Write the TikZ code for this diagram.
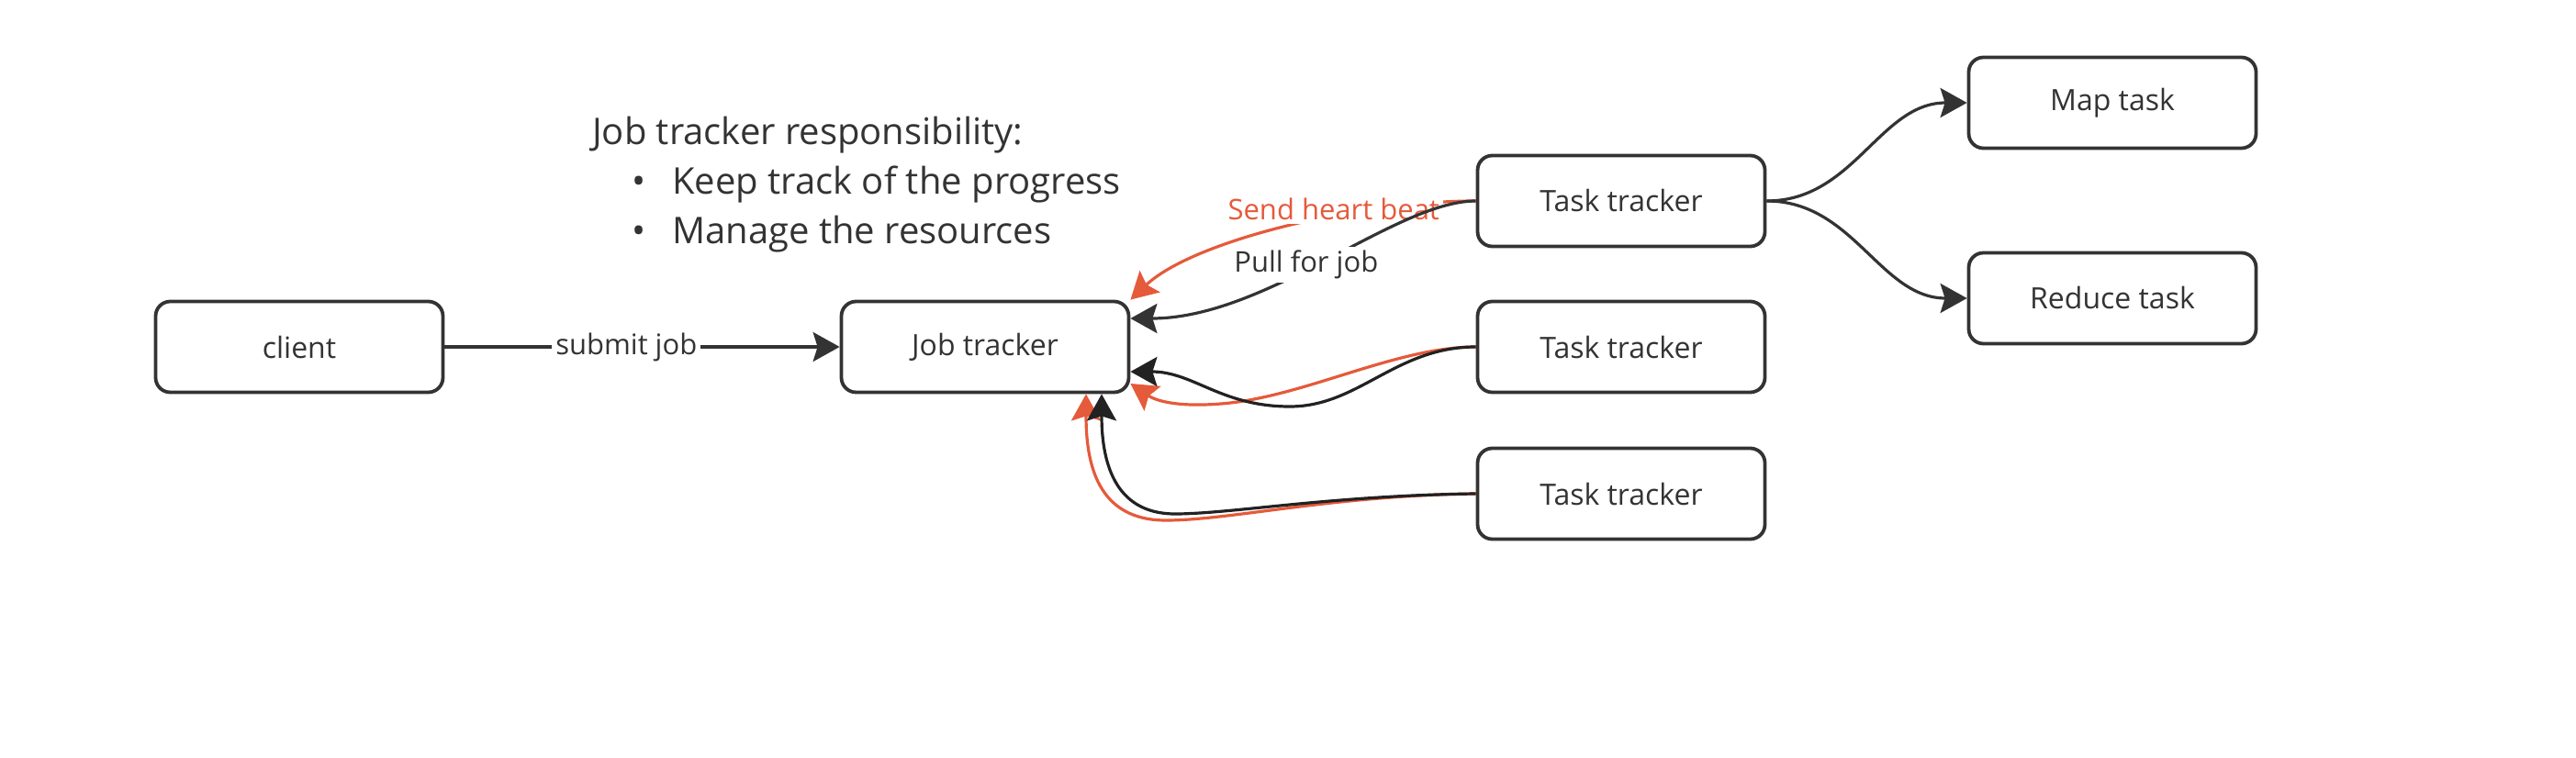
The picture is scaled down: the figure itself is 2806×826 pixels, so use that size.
\documentclass[tikz,border=0pt]{standalone}
\usepackage{fontspec}
\setmainfont{Open Sans}
\usetikzlibrary{arrows.meta}
\definecolor{ink}{HTML}{333333}
\definecolor{inkd}{HTML}{222222}
\definecolor{hb}{HTML}{E55A3A}
\tikzset{
  box/.style={draw=ink, line width=3.8pt, rounded corners=16pt, minimum width=313pt, minimum height=99pt, inner sep=0pt, font=\fontsize{32}{38}\selectfont, text=ink, fill=white},
  conn/.style={draw=ink, line width=3.2pt, -{Stealth[length=29pt,width=32pt,inset=5pt]}},
  connd/.style={conn, draw=inkd},
  hbconn/.style={conn, draw=hb},
  lbl/.style={font=\fontsize{31}{36}\selectfont, fill=white, inner sep=4pt, text=ink},
  titletxt/.style={font=\fontsize{40}{48}\selectfont, text=ink, inner sep=0pt, anchor=base west},
}
\begin{document}
\begin{tikzpicture}[x=1pt,y=1pt]
\useasboundingbox (0,0) rectangle (2806,-826);

% boxes
\node[box] (client) at (326,-378) {client};
\node[box] (jt) at (1073,-378) {Job tracker};
\node[box] (tt1) at (1766,-219) {Task tracker};
\node[box] (tt2) at (1766,-378) {Task tracker};
\node[box] (tt3) at (1766,-538) {Task tracker};
\node[box] (map) at (2301,-112) {Map task};
\node[box] (red) at (2301,-325) {Reduce task};

% title text
\node[titletxt] (t0) at (645,-158) {Job tracker responsibility:};
\node[titletxt] (t1) at (688,-212) {\makebox[44pt][l]{•}Keep track of the progress};
\node[titletxt] (t2) at (688,-266) {\makebox[44pt][l]{•}Manage the resources};

% client -> job tracker
\draw[conn] (client.east) -- (jt.west) node[pos=0.46, lbl] {submit job};

% TT1 -> JT (heart beat, orange)
\draw[hbconn] (tt1.west) .. controls (1480,-219) and (1300,-262) .. (jt.north east)
  node[pos=0.37, lbl, text=hb, yshift=8pt] {Send heart beat};
% TT1 -> JT (pull for job)
\draw[conn] (tt1.west) .. controls (1520,-219) and (1380,-347) .. ([yshift=31pt]jt.east)
  node[pos=0.55, lbl, yshift=4pt] {Pull for job};

% TT2 -> JT
\draw[hbconn] (tt2.west) .. controls (1520,-378) and (1420,-433) .. (1330,-440)
  .. controls (1280,-444) and (1258,-436) .. ([yshift=-40pt]jt.east);
\draw[connd] (tt2.west) .. controls (1520,-378) and (1480,-443) .. (1405,-443)
  .. controls (1330,-443) and (1300,-405) .. ([yshift=-27pt]jt.east);

% TT3 -> JT
\draw[hbconn] (tt3.west) .. controls (1450,-540) and (1340,-567) .. (1270,-567)
  .. controls (1195,-567) and (1183,-505) .. ([xshift=110pt]jt.south);
\draw[connd] (tt3.west) .. controls (1450,-540) and (1340,-560) .. (1280,-560)
  .. controls (1212,-560) and (1200,-500) .. ([xshift=127pt]jt.south);

% TT1 -> map / reduce
\draw[conn] (tt1.east) to[out=0,in=180] (map.west);
\draw[conn] (tt1.east) to[out=0,in=180] (red.west);
\end{tikzpicture}
\end{document}
